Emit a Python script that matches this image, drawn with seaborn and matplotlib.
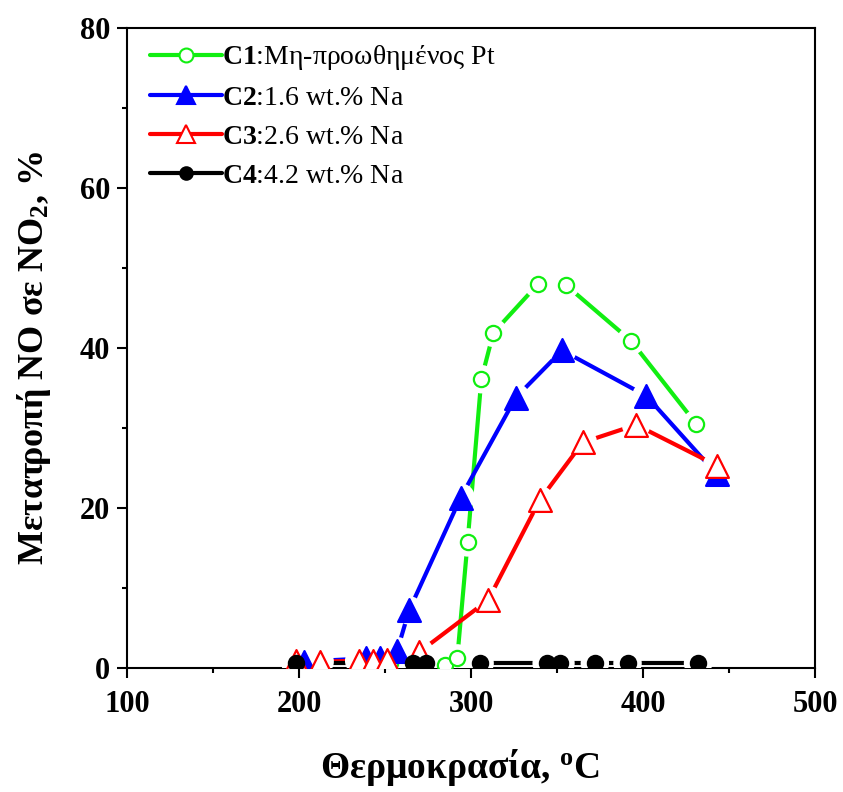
import matplotlib
matplotlib.use('Agg')
import matplotlib.pyplot as plt
import seaborn as sns
from matplotlib.lines import Line2D
from matplotlib.ticker import MultipleLocator

# ---- data ----
c1_x = [242, 253, 285, 292, 298, 306, 313, 339, 355, 393, 431]
c1_y = [0.7, 0.6, 0.4, 1.2, 15.7, 36.1, 41.9, 48.0, 47.9, 40.9, 30.5]

c2_x = [203, 239, 247, 257, 264, 294, 326, 353, 402, 443]
c2_y = [0.8, 1.2, 1.2, 2.1, 7.2, 21.3, 33.8, 39.7, 34.0, 24.2]

c3_x = [198, 212, 235, 243, 251, 270, 310, 340, 365, 396, 443]
c3_y = [0.9, 0.8, 0.9, 0.9, 1.0, 2.0, 8.5, 21.0, 28.2, 30.4, 25.3]

c4_x = [198, 266, 274, 305, 344, 352, 372, 391, 432]
c4_y = [0.6, 0.6, 0.6, 0.6, 0.6, 0.6, 0.6, 0.6, 0.6]

labels = [r'$\mathbf{C1}$:Μη-προωθημένος Pt',
          r'$\mathbf{C2}$:1.6 wt.% Na',
          r'$\mathbf{C3}$:2.6 wt.% Na',
          r'$\mathbf{C4}$:4.2 wt.% Na']
x_ticks = [100, 200, 300, 400, 500]
y_ticks = [0, 20, 40, 60, 80]
x_label = r'Θερμοκρασία, $^{\mathbf{o}}$C'
y_label = r'Μετατροπή NO σε NO$_{\mathbf{2}}$, %'

sns.set_theme(style='ticks')
plt.rcParams['font.family'] = ['Liberation Serif', 'DejaVu Serif']
plt.rcParams['mathtext.fontset'] = 'custom'
plt.rcParams['mathtext.rm'] = 'Liberation Serif'
plt.rcParams['mathtext.bf'] = 'Liberation Serif:bold'
plt.rcParams['mathtext.it'] = 'Liberation Serif:italic'
plt.rcParams['text.color'] = 'black'
plt.rcParams['axes.labelcolor'] = 'black'
plt.rcParams['xtick.color'] = 'black'
plt.rcParams['ytick.color'] = 'black'

fig = plt.figure(figsize=(8.43, 7.92), dpi=100)
ax = fig.add_axes([127/843, 1-668/792, 688/843, 640/792])

green, blue, red, black = '#11EE11', '#0000FF', '#FF0000', '#000000'
series = [
    (c1_x, c1_y, green, 'o', 'white', 120),
    (c2_x, c2_y, blue, '^', blue, 270),
    (c3_x, c3_y, red, '^', 'white', 270),
    (c4_x, c4_y, black, 'o', black, 120),
]

for x, y, col, mk, face, s in series:
    sns.lineplot(x=x, y=y, ax=ax, color=col, linewidth=3.0, sort=False,
                 estimator=None, zorder=2, legend=False)
for x, y, col, mk, face, s in series:
    sns.scatterplot(x=x, y=y, ax=ax, marker='o', s=420, color='white',
                    edgecolor='none', linewidth=0, zorder=3, legend=False)
for x, y, col, mk, face, s in series:
    sns.scatterplot(x=x, y=y, ax=ax, marker=mk, s=s, facecolor=face,
                    edgecolor=col, linewidth=1.6, zorder=4, legend=False,
                    clip_on=True)

ax.set_xlim(100, 500)
ax.set_ylim(0, 80)
ax.set_xticks(x_ticks)
ax.set_yticks(y_ticks)
ax.xaxis.set_minor_locator(MultipleLocator(50))
ax.yaxis.set_minor_locator(MultipleLocator(10))
for sp in ax.spines.values():
    sp.set_linewidth(1.5)
    sp.set_color('black')
ax.tick_params(which='major', direction='out', length=7, width=1.5,
               labelsize=22, pad=5, colors='black')
ax.tick_params(axis='x', which='major', pad=9)
ax.tick_params(which='minor', direction='out', length=3.5, width=1.5,
               colors='black')
for lab in ax.get_xticklabels() + ax.get_yticklabels():
    lab.set_fontweight('bold')

ax.set_xlabel(x_label, fontsize=27, fontweight='bold')
ax.xaxis.label.set_va('baseline')
ax.xaxis.set_label_coords(0.484, -0.172)
ax.set_ylabel(y_label, fontsize=26, fontweight='bold')
ax.yaxis.set_label_coords(-0.107, 0.485)

handles = []
for x, y, col, mk, face, s in series:
    ms = 10 if mk == 'o' else 13
    if col == black:
        ms = 9
    handles.append(Line2D([], [], color=col, linewidth=3.0, marker=mk,
                          markersize=ms, markerfacecolor=face,
                          markeredgecolor=col, markeredgewidth=1.5))
ax.legend(handles, labels, loc='upper left', bbox_to_anchor=(0.011, 1.0),
          frameon=False, fontsize=20, handlelength=2.6, handletextpad=0.0,
          labelspacing=0.48, borderaxespad=0.15, borderpad=0.4)

fig.savefig('out.png', dpi=100)
